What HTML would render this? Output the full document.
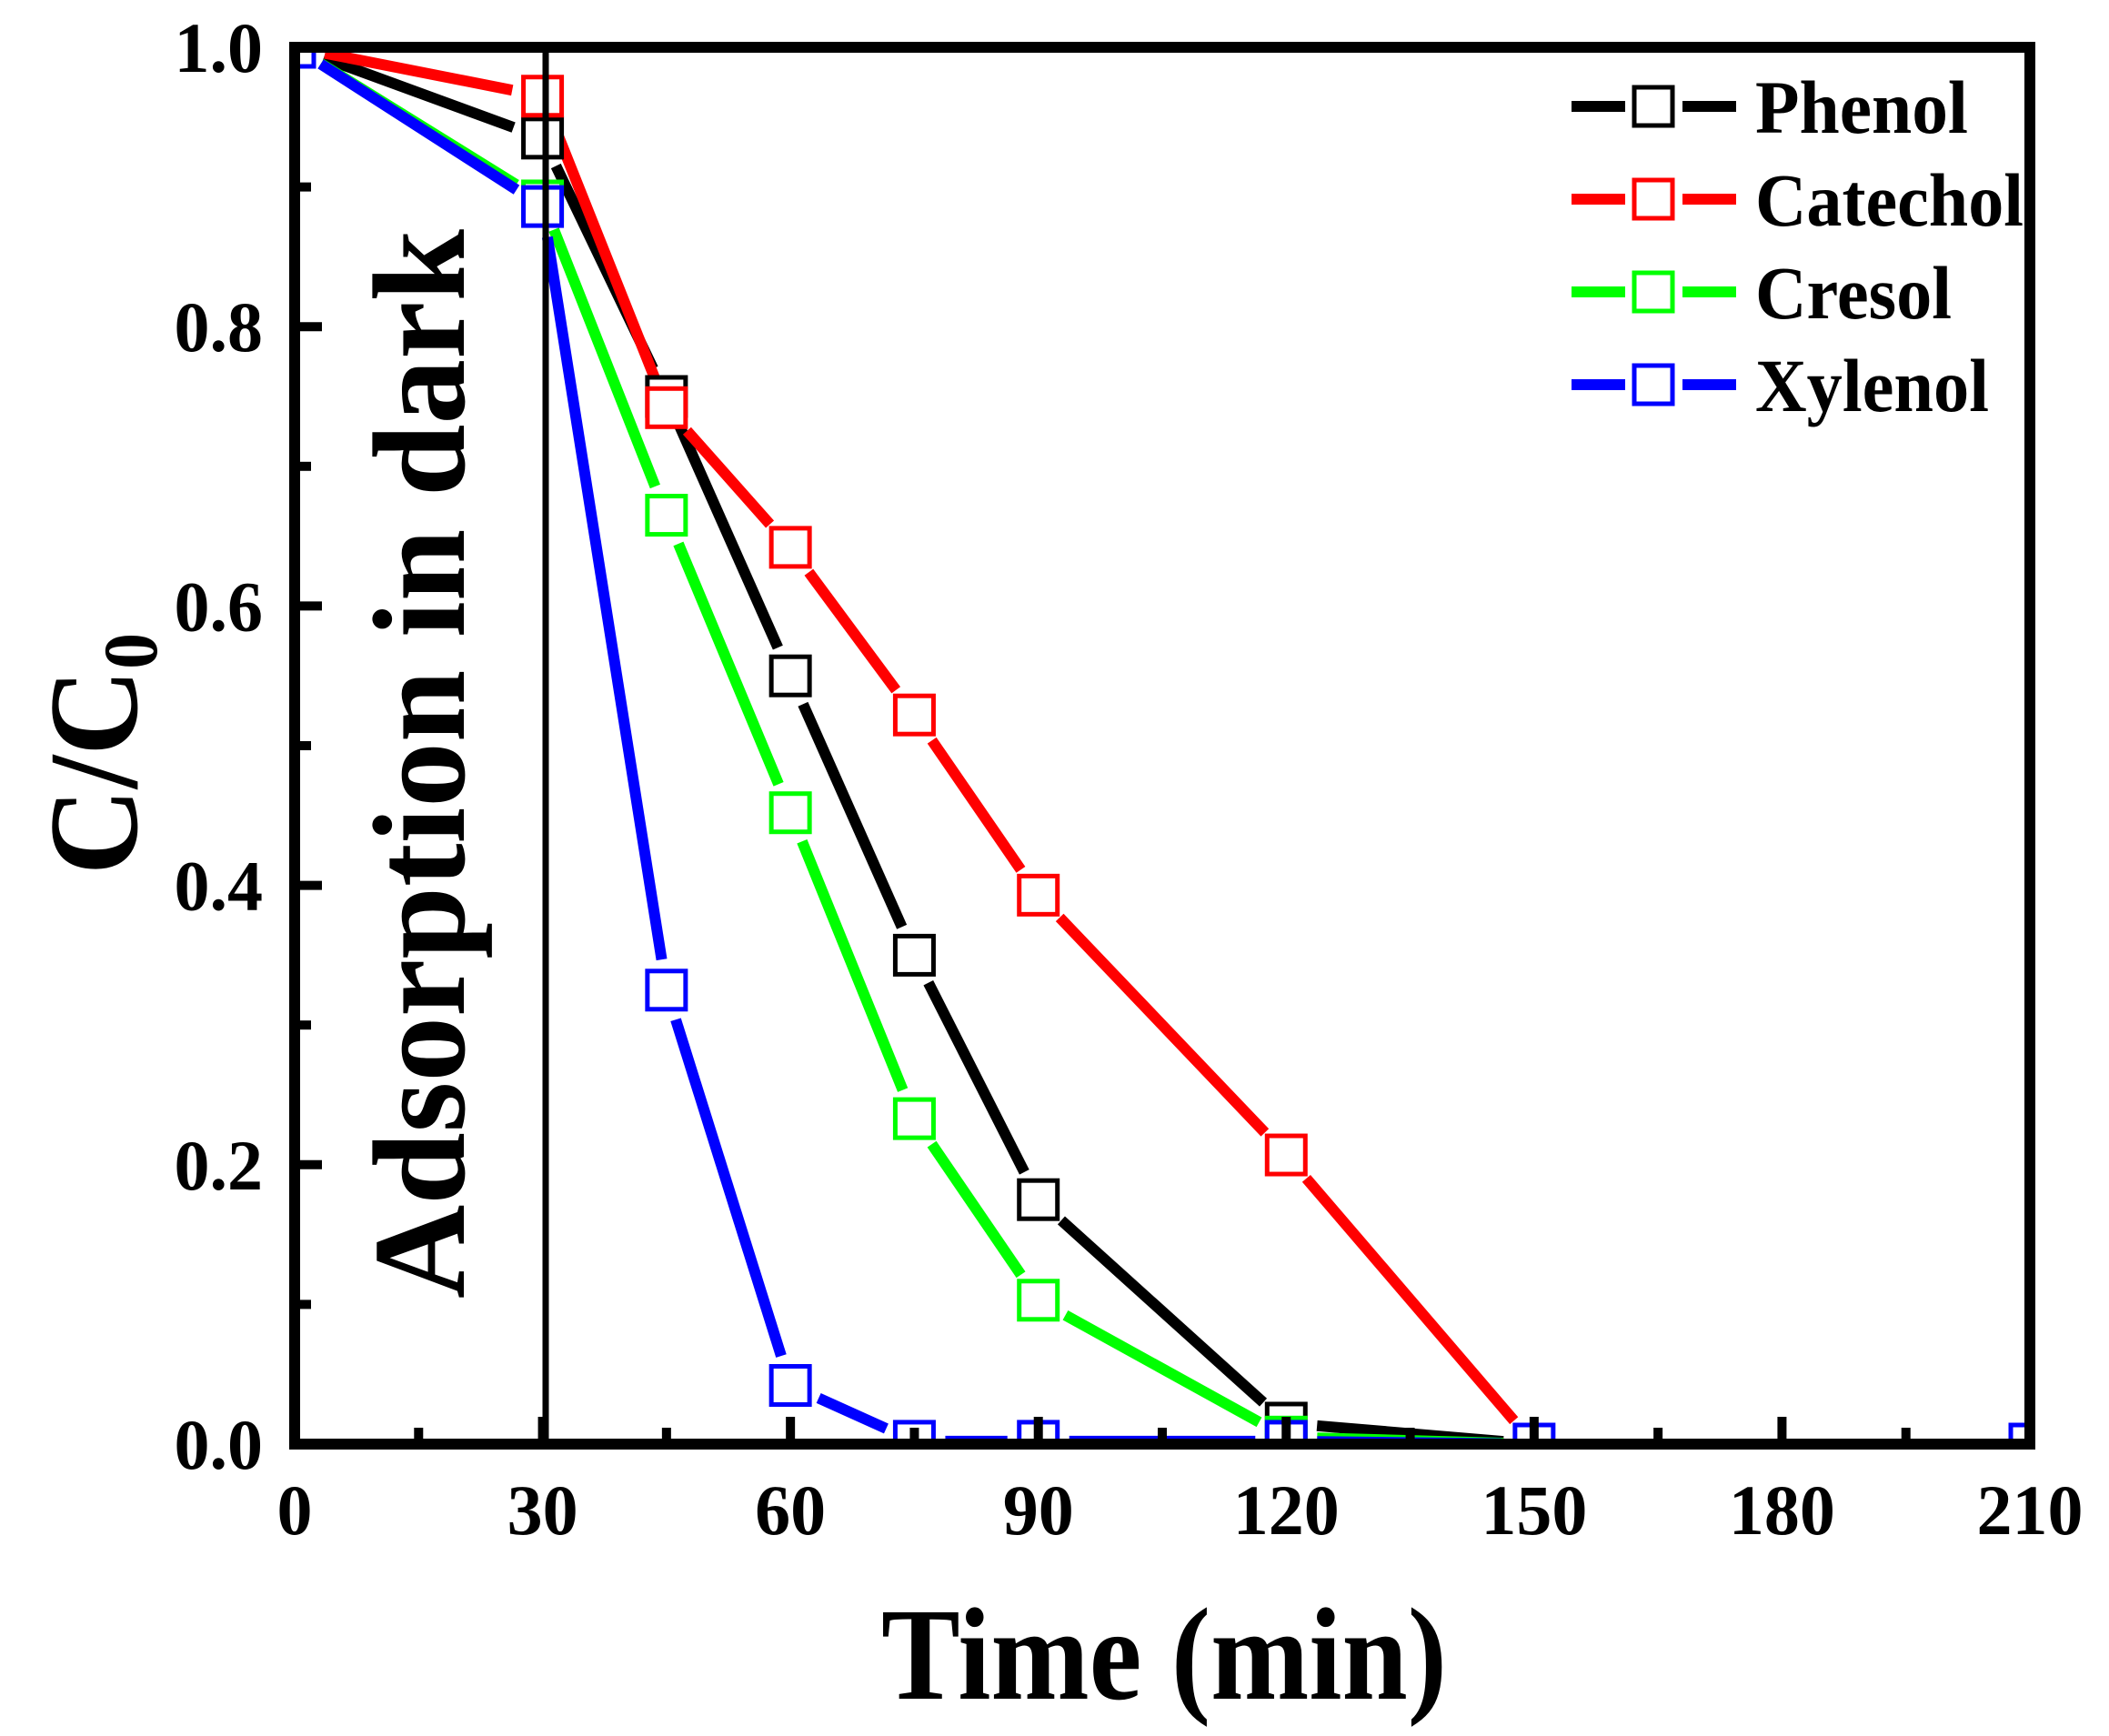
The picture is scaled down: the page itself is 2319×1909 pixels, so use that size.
<!DOCTYPE html>
<html><head><meta charset="utf-8"><style>
html,body{margin:0;padding:0;background:#fff;}
svg{display:block;}
text{font-family:"Liberation Serif",serif;font-weight:bold;fill:#000;}
</style></head><body>
<svg id="s" width="2319" height="1909" viewBox="0 0 2319 1909" xmlns="http://www.w3.org/2000/svg">
<defs><clipPath id="c"><rect x="330" y="58" width="1896" height="1525"/></clipPath></defs>
<g id="plot" clip-path="url(#c)"></g>
<line x1="600" y1="52" x2="600" y2="1588" stroke="#000" stroke-width="7"/>
<rect x="324" y="52" width="1908" height="1536" fill="none" stroke="#000" stroke-width="12"/>
<g id="ticks"></g>
<g font-size="78" text-anchor="end" id="ylab"></g>
<g font-size="78" text-anchor="middle" id="xlab"></g>
<text x="1280" y="1868" font-size="145" text-anchor="middle" textLength="622" lengthAdjust="spacingAndGlyphs">Time (min)</text>
<text transform="translate(150,962) rotate(-90)" font-size="140" textLength="266" lengthAdjust="spacingAndGlyphs">C/C<tspan font-size="85" dy="22">0</tspan></text>
<text transform="translate(510,1428) rotate(-90)" font-size="145" textLength="1176" lengthAdjust="spacingAndGlyphs">Adsorption in dark</text>
<g id="leg" font-size="83"></g>
</svg>
<script>
var NS="http://www.w3.org/2000/svg";
function X(t){return 324+t*1908/210;}
function Y(v){return 1588-v*1536;}
function el(p,n,a,txt){var e=document.createElementNS(NS,n);for(var k in a)e.setAttribute(k,a[k]);if(txt!==undefined)e.textContent=txt;p.appendChild(e);return e;}
var T=[0,30,45,60,75,90,120,150,210];
var S=[
["#000",[1,0.935,0.75,0.55,0.35,0.175,0.015,0,0]],
["#f00",[1,0.965,0.742,0.642,0.522,0.393,0.207,0,0]],
["#0f0",[1,0.89,0.665,0.452,0.233,0.103,0.005,0,0]],
["#00f",[1,0.886,0.325,0.042,0.002,0.002,0.002,0,0]]];
var plot=document.getElementById("plot");
var gap=34;
S.forEach(function(s){
 for(var i=0;i<T.length-1;i++){
  var x1=X(T[i]),y1=Y(s[1][i]),x2=X(T[i+1]),y2=Y(s[1][i+1]);
  var dx=x2-x1,dy=y2-y1,L=Math.sqrt(dx*dx+dy*dy);if(L<2*gap)continue;
  var ux=dx/L,uy=dy/L;
  el(plot,"line",{x1:x1+ux*gap,y1:y1+uy*gap,x2:x2-ux*gap,y2:y2-uy*gap,stroke:s[0],"stroke-width":12});
 }
});
S.forEach(function(s){
 for(var i=0;i<T.length;i++){
  if(i>=7 && s[0]!="#00f")continue;
  el(plot,"rect",{x:X(T[i])-21,y:Y(s[1][i])-21,width:42,height:42,fill:"#fff",stroke:s[0],"stroke-width":5});
 }
});
var tk=document.getElementById("ticks");
for(var v=0;v<=10;v++){var y=Y(v/10),len=(v%2==0)?24:12;
 el(tk,"line",{x1:330,y1:y,x2:330+len,y2:y,stroke:"#000","stroke-width":10});}
for(var t=15;t<210;t+=15){var len=(t%30==0)?24:12;
 el(tk,"line",{x1:X(t),y1:1582,x2:X(t),y2:1582-len,stroke:"#000","stroke-width":10});}
var yl=document.getElementById("ylab");
["0.0","0.2","0.4","0.6","0.8","1.0"].forEach(function(s,i){el(yl,"text",{x:289,y:Y(i*0.2)+27},s);});
var xl=document.getElementById("xlab");
[0,30,60,90,120,150,180,210].forEach(function(t){el(xl,"text",{x:X(t),y:1687},String(t));});
var lg=document.getElementById("leg");
var TL=[234,295,216,257];
["Phenol","Catechol","Cresol","Xylenol"].forEach(function(n,i){var y=117+i*102;
 el(lg,"line",{x1:1728,y1:y,x2:1787,y2:y,stroke:S[i][0],"stroke-width":12});
 el(lg,"line",{x1:1850,y1:y,x2:1909,y2:y,stroke:S[i][0],"stroke-width":12});
 el(lg,"rect",{x:1797,y:y-21,width:42,height:42,fill:"#fff",stroke:S[i][0],"stroke-width":5});
 el(lg,"text",{x:1930,y:y+29,textLength:TL[i],lengthAdjust:"spacingAndGlyphs"},n);
});
</script>
</body></html>
